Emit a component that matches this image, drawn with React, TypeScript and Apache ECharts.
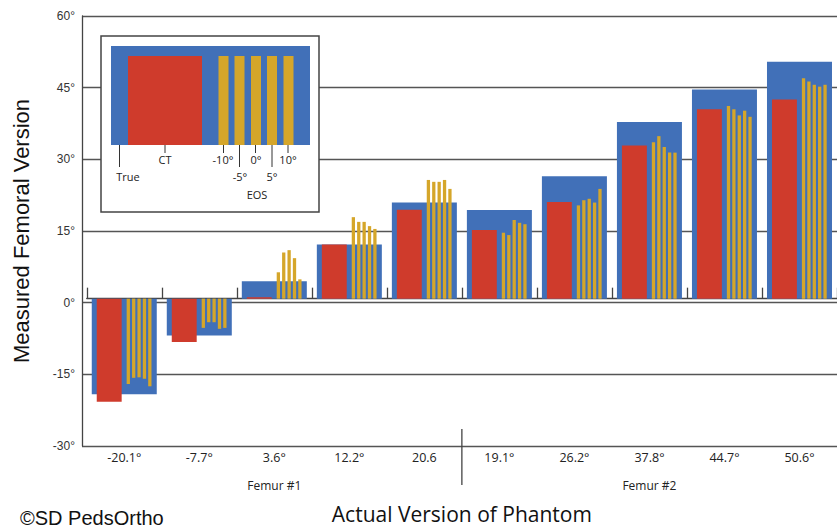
import React, { useEffect, useRef } from "react";
import * as echarts from "echarts";

// ---- data ----
const categories = ["-20.1°", "-7.7°", "3.6°", "12.2°", "20.6", "19.1°", "26.2°", "37.8°", "44.7°", "50.6°"];
const groups = ["Femur #1", "Femur #2"];
const trueVals = [-20.3, -7.8, 3.7, 11.5, 20.4, 18.8, 26.0, 37.5, 44.4, 50.3];
const ctVals = [-21.9, -9.2, 0.3, 11.5, 18.9, 14.6, 20.5, 32.5, 40.2, 42.3];
const eosM10 = [-18.1, -6.2, 5.6, 17.3, 25.2, 14.0, 19.8, 33.2, 40.9, 46.8];
const eosM5 = [-16.8, -5.0, 9.8, 16.3, 24.8, 13.5, 20.9, 34.5, 40.2, 46.1];
const eos0 = [-16.7, -5.0, 10.3, 16.3, 24.8, 16.7, 21.2, 32.2, 38.9, 45.4];
const eosP5 = [-17.0, -6.4, 8.6, 15.4, 25.2, 16.1, 20.4, 31.0, 39.9, 45.0];
const eosP10 = [-18.6, -6.2, 4.1, 14.8, 23.3, 15.8, 23.3, 31.0, 38.6, 45.4];

const BLUE = "#4170b8";
const RED = "#cf3b2c";
const GOLD = "#d5a62a";
const GRID = "#555";
const BAND_REF = 75.25;

function barSeries(name: string, values: number[], offset: number, width: number, color: string, z: number) {
  return {
    type: "custom",
    name,
    xAxisIndex: 1,
    yAxisIndex: 1,
    z,
    data: values.map((v, i) => [i, v]),
    encode: { x: 0, y: 1 },
    renderItem: (_params: any, api: any) => {
      const i = api.value(0);
      const v = api.value(1);
      const p0 = api.coord([i, 0]);
      const p1 = api.coord([i, v]);
      const band = api.coord([1, 0])[0] - api.coord([0, 0])[0];
      const s = band / BAND_REF;
      return {
        type: "rect",
        shape: {
          x: p0[0] + offset * s,
          y: Math.min(p0[1], p1[1]),
          width: width * s,
          height: Math.abs(p1[1] - p0[1]),
        },
        style: { fill: color },
      };
    },
  };
}

const legendElements = (): any[] => {
  const els: any[] = [];
  els.push({ type: "rect", shape: { x: 101, y: 36, width: 218, height: 176 }, style: { fill: "#fff", stroke: "#444", lineWidth: 1.5 }, z: 100 });
  els.push({ type: "rect", shape: { x: 111, y: 46, width: 199, height: 99 }, style: { fill: BLUE }, z: 101 });
  els.push({ type: "rect", shape: { x: 128, y: 56, width: 74, height: 89 }, style: { fill: RED }, z: 102 });
  [218.5, 234.5, 251, 267, 283.5].forEach((x) => {
    els.push({ type: "rect", shape: { x, y: 56, width: 10, height: 89 }, style: { fill: GOLD }, z: 102 });
  });
  const ticks: [number, number][] = [
    [119.5, 167], [165, 153], [223.5, 153], [239.5, 167], [255.5, 153], [272, 167], [288, 153],
  ];
  ticks.forEach(([x, y2]) => {
    els.push({ type: "line", shape: { x1: x, y1: 145, x2: x, y2 }, style: { stroke: "#333", lineWidth: 1 }, z: 103 });
  });
  const labels: [string, number, number][] = [
    ["True", 128, 176], ["CT", 165, 159], ["-10°", 223, 159], ["0°", 256, 159], ["10°", 288, 159],
    ["-5°", 240, 176], ["5°", 272, 176], ["EOS", 257, 194],
  ];
  labels.forEach(([t, x, y]) => {
    els.push({
      type: "text", x, y, z: 103,
      style: { text: t, fill: "#222", font: '11px "Open Sans"', textAlign: "center", textVerticalAlign: "middle" },
    });
  });
  els.push({
    type: "text", x: 20, y: 518, z: 103,
    style: { text: "©SD PedsOrtho", fill: "#111", font: '20px "Liberation Sans"', textAlign: "left", textVerticalAlign: "middle" },
  });
  return els;
};

export default function App() {
  const ref = useRef<HTMLDivElement>(null);
  useEffect(() => {
    if (!ref.current) return;
    const chart = echarts.init(ref.current, undefined, { renderer: "svg" });
    const option: any = {
      animation: false,
      backgroundColor: "#fff",
      grid: [
        { left: 82, right: -2, top: 16, bottom: 83 },
        { left: 86.75, right: -2.25, top: 16, bottom: 83 },
      ],
      xAxis: [
        { gridIndex: 0, type: "value", min: 0, max: 1, show: false },
        {
          gridIndex: 1,
          type: "category",
          data: categories,
          position: "bottom",
          axisLine: { show: true, lineStyle: { color: "#444", width: 1.3 } },
          axisTick: { show: true, inside: true, length: 11, lineStyle: { color: "#444", width: 1.3 } },
          axisLabel: { margin: 11, fontSize: 12.5, color: "#222", fontFamily: "Open Sans" },
          name: "Actual Version of Phantom",
          nameLocation: "middle",
          nameGap: 63,
          nameTextStyle: { fontSize: 21, color: "#111", fontFamily: "Open Sans" },
          splitLine: { show: false },
        },
        {
          gridIndex: 1,
          type: "category",
          data: groups,
          position: "bottom",
          axisLine: { show: false },
          axisTick: { show: false },
          axisLabel: { margin: 39, fontSize: 12, color: "#222", fontFamily: "Open Sans" },
          splitLine: { show: false },
        },
      ],
      yAxis: [
        {
          gridIndex: 0,
          type: "value",
          min: -30,
          max: 60,
          interval: 15,
          axisLine: { show: true, lineStyle: { color: "#444", width: 1.3 } },
          axisTick: { show: false },
          axisLabel: { margin: 7, fontSize: 12, color: "#333", fontFamily: "Liberation Sans", formatter: (v: number) => `${v}°` },
          splitLine: { show: true, lineStyle: { color: GRID, width: 1.3 } },
          name: "Measured Femoral Version",
          nameLocation: "middle",
          nameRotate: 90,
          nameGap: 50,
          nameTextStyle: { fontSize: 22, color: "#111", fontFamily: "Liberation Sans" },
        },
        { gridIndex: 1, type: "value", min: -30, max: 60, interval: 15, show: false, splitLine: { show: false } },
      ],
      series: [
        barSeries("True", trueVals, -32.6, 65.2, BLUE, 2),
        barSeries("CT", ctVals, -27.6, 25, RED, 3),
        barSeries("EOS -10°", eosM10, 2.4, 3.3, GOLD, 3),
        barSeries("EOS -5°", eosM5, 7.8, 3.3, GOLD, 3),
        barSeries("EOS 0°", eos0, 13.2, 3.3, GOLD, 3),
        barSeries("EOS 5°", eosP5, 18.6, 3.3, GOLD, 3),
        barSeries("EOS 10°", eosP10, 24.0, 3.3, GOLD, 3),
      ],
    };
    chart.setOption(option);
    const a = chart.convertToPixel({ xAxisIndex: 1 }, 4) as number;
    const b = chart.convertToPixel({ xAxisIndex: 1 }, 5) as number;
    const sepX = (a + b) / 2;
    const axisY = chart.convertToPixel({ yAxisIndex: 1 }, -30) as number;
    chart.setOption({
      graphic: [
        ...legendElements(),
        { type: "line", shape: { x1: sepX, y1: axisY - 11, x2: sepX, y2: axisY + 45 }, style: { stroke: "#444", lineWidth: 1.3 }, z: 103 },
      ],
    });
    return () => chart.dispose();
  }, []);
  return <div ref={ref} style={{ position: "fixed", left: 0, top: 0, width: 837, height: 529 }} />;
}
